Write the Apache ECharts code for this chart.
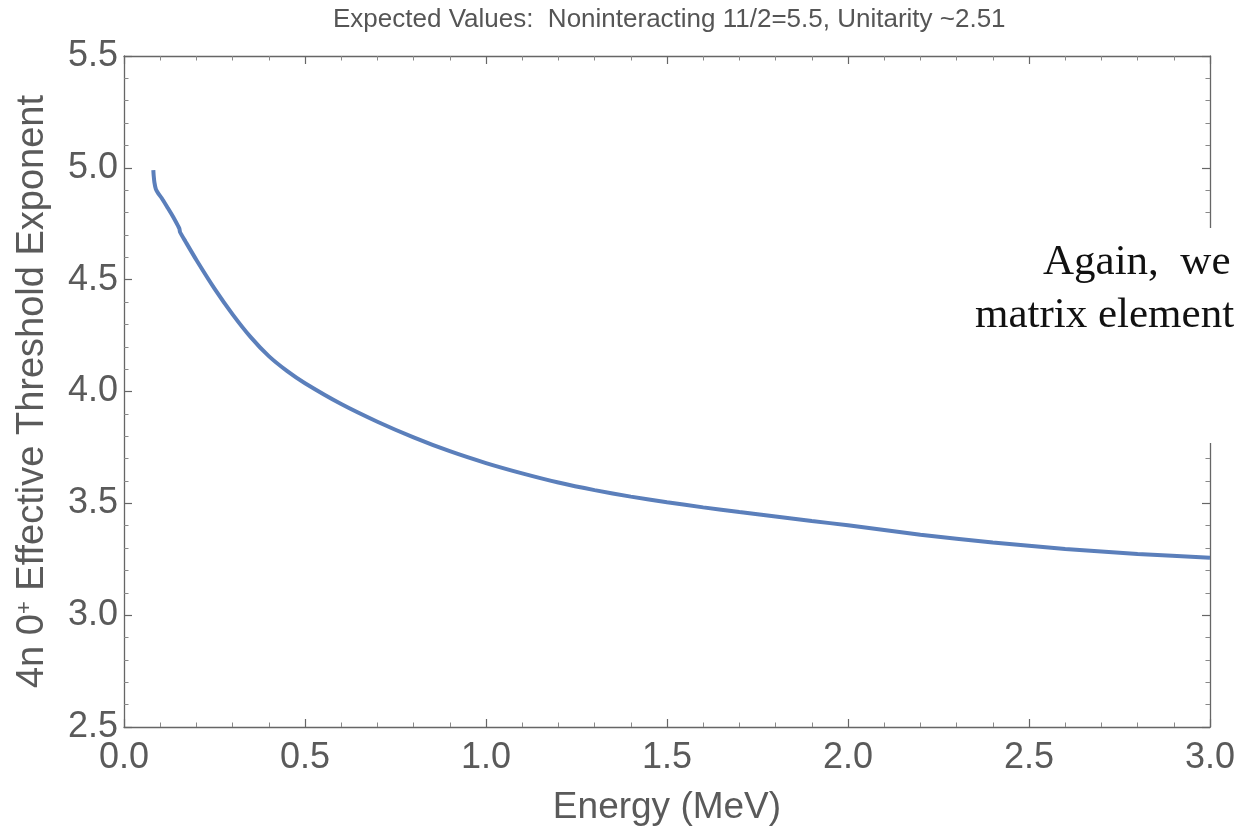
<!DOCTYPE html>
<html>
<head>
<meta charset="utf-8">
<script src="https://cdn.jsdelivr.net/npm/echarts@6/dist/echarts.min.js"></script>
<style>
html,body{margin:0;padding:0;background:#fff;}
#chart{width:1238px;height:831px;}
</style>
</head>
<body>
<div id="chart"></div>
<script>
// Data
const energy = [0.081, 0.082, 0.084, 0.088, 0.095, 0.104, 0.12, 0.136, 0.150, 0.153, 0.155, 0.17, 0.20, 0.25, 0.30, 0.35, 0.40, 0.45, 0.50, 0.60, 0.70, 0.80, 0.90, 1.00, 1.10, 1.20, 1.30, 1.40, 1.50, 1.60, 1.70, 1.80, 1.90, 2.00, 2.20, 2.40, 2.60, 2.80, 3.00];
const exponent = [4.99, 4.965, 4.935, 4.905, 4.885, 4.865, 4.823, 4.78, 4.738, 4.728, 4.712, 4.67, 4.588, 4.46, 4.345, 4.243, 4.158, 4.092, 4.037, 3.944, 3.865, 3.795, 3.733, 3.680, 3.634, 3.593, 3.559, 3.530, 3.505, 3.482, 3.461, 3.441, 3.421, 3.402, 3.360, 3.325, 3.296, 3.274, 3.257];
const titleText = 'Expected Values:  Noninteracting 11/2=5.5, Unitarity ~2.51';
const xName = 'Energy (MeV)';
const overlayLines = ['Again,  we', 'matrix element'];

const axisColor = '#666';
const labelColor = '#5a5a5a';
const font = 'Liberation Sans, Arial, sans-serif';

const chart = echarts.init(document.getElementById('chart'), null, {renderer: 'canvas'});

function mkX(pos, showLabel, showName) {
  return {
    type: 'value', position: pos, min: 0, max: 3, interval: 0.5,
    name: showName ? xName : '', nameLocation: 'middle', nameGap: 62,
    nameTextStyle: {fontSize: 37, color: labelColor, fontFamily: font},
    axisLine: {show: true, onZero: false, lineStyle: {color: axisColor, width: 1.3}},
    axisTick: {show: true, inside: true, length: 8, lineStyle: {color: axisColor, width: 1.2}},
    minorTick: {show: true, splitNumber: 5, length: 4.5, lineStyle: {color: '#888', width: 1}},
    splitLine: {show: false}, minorSplitLine: {show: false},
    axisLabel: {show: showLabel, fontSize: 36, color: labelColor, fontFamily: font, margin: 13,
      formatter: v => v.toFixed(1)}
  };
}
function mkY(pos, showLabel, showName) {
  return {
    type: 'value', position: pos, min: 2.5, max: 5.5, interval: 0.5,
    name: showName ? '4n 0{sup|+} Effective Threshold Exponent' : '', nameLocation: 'middle', nameGap: 72,
    nameRotate: 90,
    nameTextStyle: {fontSize: 38, color: labelColor, fontFamily: font,
      rich: {sup: {fontSize: 22, color: labelColor, fontFamily: font, verticalAlign: 'top', lineHeight: 38}}},
    axisLine: {show: true, onZero: false, lineStyle: {color: axisColor, width: 1.3}},
    axisTick: {show: true, inside: true, length: 8, lineStyle: {color: axisColor, width: 1.2}},
    minorTick: {show: true, splitNumber: 5, length: 4.5, lineStyle: {color: '#888', width: 1}},
    splitLine: {show: false}, minorSplitLine: {show: false},
    axisLabel: {show: showLabel, fontSize: 36, color: labelColor, fontFamily: font, margin: 6,
      formatter: v => v.toFixed(1)}
  };
}

const option = {
  backgroundColor: '#fff',
  animation: false,
  title: {
    text: titleText, left: 333, top: 7, padding: 0,
    textStyle: {fontSize: 26, fontWeight: 'normal', color: '#555', fontFamily: font}
  },
  grid: {left: 124, right: 27, top: 56, bottom: 104, containLabel: false},
  xAxis: [mkX('bottom', true, true), mkX('top', false, false)],
  yAxis: [mkY('left', true, true), mkY('right', false, false)],
  series: [{
    type: 'line', xAxisIndex: 0, yAxisIndex: 0,
    data: energy.map((e, i) => [e, exponent[i]]),
    showSymbol: false, smooth: 0.2,
    lineStyle: {color: '#5b7fbb', width: 4},
    itemStyle: {color: '#5b7fbb'}
  }],
  graphic: [
    {type: 'rect', z: 100, shape: {x: 960, y: 228, width: 290, height: 215}, style: {fill: '#fff'}},
    {type: 'text', z: 101, x: 1043, y: 241, style: {text: overlayLines[0], fontSize: 43, fontFamily: 'Liberation Serif, serif', fill: '#111', verticalAlign: 'top'}},
    {type: 'text', z: 101, x: 975, y: 294, style: {text: overlayLines[1], fontSize: 43, fontFamily: 'Liberation Serif, serif', fill: '#111', verticalAlign: 'top'}}
  ]
};
chart.setOption(option);
</script>
</body>
</html>
